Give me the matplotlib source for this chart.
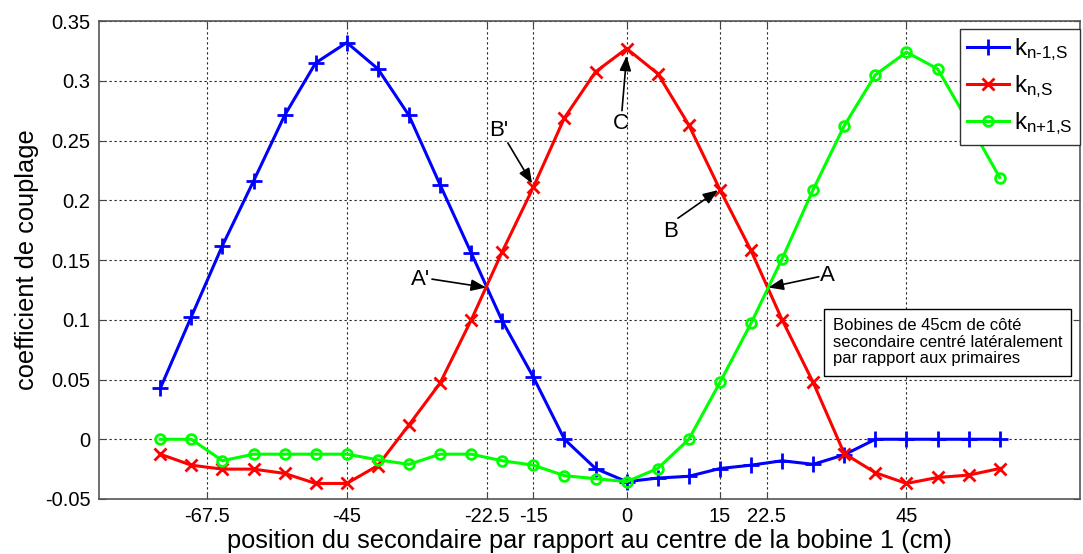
import matplotlib
matplotlib.use("Agg")
import matplotlib.pyplot as plt

plt.rcParams['font.family'] = ['Liberation Sans', 'DejaVu Sans']
plt.rcParams['mathtext.fontset'] = 'custom'
plt.rcParams['mathtext.rm'] = 'Liberation Sans'
plt.rcParams['mathtext.it'] = 'Liberation Sans'

# positions (cm)
positions = [-75, -70, -65, -60, -55, -50, -45, -40, -35, -30, -25, -20, -15, -10,
             -5, 0, 5, 10, 15, 20, 25, 30, 35, 40, 45, 50, 55, 60]

k_prev = [0.0425, 0.1025, 0.162, 0.216, 0.271, 0.315, 0.332, 0.310, 0.271, 0.213,
          0.156, 0.099, 0.052, 0.0, -0.0245, -0.0355, -0.0325, -0.031, -0.0245,
          -0.0217, -0.018, -0.021, -0.013, 0.0, 0.0, 0.0, 0.0, 0.0]

k_cur = [-0.0125, -0.0217, -0.025, -0.025, -0.0286, -0.037, -0.037, -0.022, 0.012,
         0.047, 0.0997, 0.157, 0.211, 0.269, 0.3075, 0.327, 0.306, 0.263, 0.209,
         0.158, 0.100, 0.0475, -0.012, -0.028, -0.037, -0.032, -0.030, -0.0245]

k_next = [0.0, 0.0, -0.018, -0.0125, -0.0125, -0.0125, -0.0125, -0.0172, -0.021,
          -0.0125, -0.0125, -0.018, -0.0217, -0.0305, -0.033, -0.0355, -0.0245,
          0.0, 0.0475, 0.097, 0.151, 0.209, 0.2625, 0.305, 0.324, 0.31, 0.265, 0.219]

series_labels = [r'$\mathregular{k_{n\text{-}1\text{,}S}}$',
                 r'$\mathregular{k_{n\text{,}S}}$',
                 r'$\mathregular{k_{n\text{+}1\text{,}S}}$']

xtick_values = [-67.5, -45, -22.5, -15, 0, 15, 22.5, 45]
xtick_labels = ['-67.5', '-45', '-22.5', '-15', '0', '15', '22.5', '45']
ytick_values = [-0.05, 0, 0.05, 0.1, 0.15, 0.2, 0.25, 0.3, 0.35]
ytick_labels = ['-0.05', '0', '0.05', '0.1', '0.15', '0.2', '0.25', '0.3', '0.35']

# annotations: label, text position, arrow tail, arrow head (data coords)
annot_labels = ["A'", "B'", "C", "B", "A"]
annot_text_xy = [(-33.1, 0.134), (-20.5, 0.258), (-0.9, 0.264), (7.0, 0.174), (32.3, 0.137)]
annot_tail_xy = [(-31.3, 0.134), (-19.1, 0.248), (-0.75, 0.275), (8.25, 0.185), (30.9, 0.136)]
annot_head_xy = [(-22.6, 0.127), (-15.2, 0.214), (0.0, 0.321), (14.7, 0.2085), (22.8, 0.127)]

note_text = "Bobines de 45cm de côté\nsecondaire centré latéralement\npar rapport aux primaires"

fig = plt.figure(figsize=(10.83, 5.54), dpi=100)
ax = fig.add_axes([0.0911, 0.0993, 0.9061, 0.8627])

ax.plot(positions, k_prev, color='#0000ff', lw=2.2, marker='+', ms=12, mew=2.0,
        label=series_labels[0])
ax.plot(positions, k_cur, color='#ff0000', lw=2.2, marker='x', ms=8, mew=2.0,
        label=series_labels[1])
ax.plot(positions, k_next, color='#00ff00', lw=2.2, marker='o', ms=7, mew=2,
        mfc='none', label=series_labels[2])

ax.set_xlim(-84.9, 72.9)
ax.set_ylim(-0.05, 0.35)
ax.set_xticks(xtick_values)
ax.set_xticklabels(xtick_labels)
ax.set_yticks(ytick_values)
ax.set_yticklabels(ytick_labels)
ax.tick_params(direction='in', length=5, labelsize=14.5, top=True, right=True,
               color='#444444', pad=6)
ax.grid(True, linestyle=(0, (2, 2.5)), color='#222222', lw=0.8)
for s in ax.spines.values():
    s.set_color('#555555')
    s.set_linewidth(1.2)

ax.set_xlabel('position du secondaire par rapport au centre de la bobine 1 (cm)',
              fontsize=18.3, labelpad=2)
ax.set_ylabel('coefficient de couplage', fontsize=18.3, labelpad=4)

leg = ax.legend(loc='upper right', fontsize=17.5, frameon=True, fancybox=False,
                framealpha=1, borderaxespad=0.0, handlelength=1.75,
                labelspacing=0.42, handletextpad=0.2, borderpad=0.3,
                edgecolor='#333333', bbox_to_anchor=(1.0, 0.983))
leg.get_frame().set_linewidth(1.0)

for lab, txy, tail, head in zip(annot_labels, annot_text_xy, annot_tail_xy, annot_head_xy):
    ax.text(txy[0], txy[1], lab, fontsize=16, ha='center', va='center')
    ax.annotate('', xy=head, xytext=tail,
                arrowprops=dict(arrowstyle='-|>,head_length=0.9,head_width=0.35',
                                color='black', lw=1.2, shrinkA=0, shrinkB=0))

ax.text(0.748, 0.379, note_text, transform=ax.transAxes, fontsize=12,
        ha='left', va='top', linespacing=1.15,
        bbox=dict(boxstyle='square,pad=0.55', fc='white', ec='black', lw=1.0))

fig.savefig('out.png', dpi=100)
